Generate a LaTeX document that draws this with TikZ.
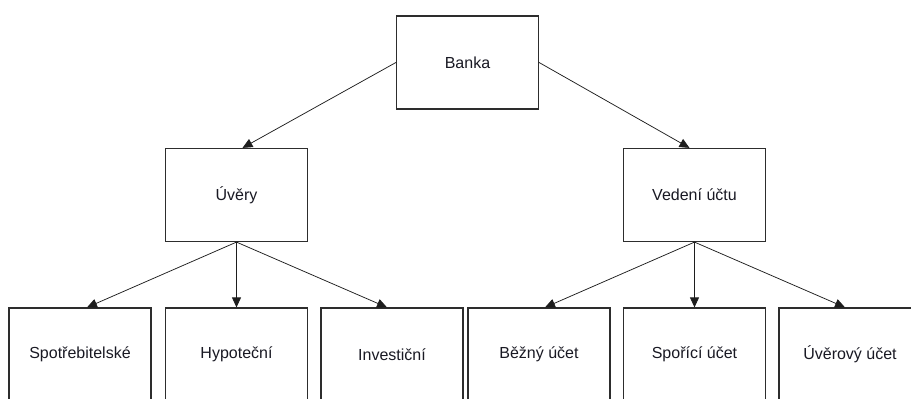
\documentclass[tikz,border=0pt]{standalone}
\usepackage{fontspec}
\setmainfont{Liberation Sans}
\usetikzlibrary{arrows.meta}
\definecolor{boxline}{RGB}{45,45,45}
\definecolor{linkcol}{RGB}{30,30,30}
\definecolor{textcol}{RGB}{25,25,35}
\begin{document}
\begin{tikzpicture}[x=1pt,y=-1pt,
  box/.style={draw=boxline, line width=1.2pt, fill=white, minimum width=142pt,
    minimum height=93pt, inner sep=0pt, font=\fontsize{16}{19}\selectfont, text=textcol},
  link/.style={draw=linkcol, line width=0.75pt, -{Triangle[length=10pt,width=9pt]}}]
  \clip (0,0) rectangle (911,399);
  % top level
  \node[box] (banka) at (467.5,62.5) {Banka};
  % second level
  \node[box] (uvery)  at (236.5,195) {Úvěry};
  \node[box] (vedeni) at (694.5,195) {Vedení účtu};
  % third level
  \node[box] (spotr) at (80,354.5)    {Spotřebitelské};
  \node[box] (hypo)  at (236.5,354.5) {Hypoteční};
  \node[box] (inv)   at (392,354.5)   {Investiční};
  \node[box] (bezny) at (539,354.5)   {Běžný účet};
  \node[box] (spor)  at (694.5,354.5) {Spořící účet};
  \node[box] (uverovy) at (850,354.5) {Úvěrový účet};
  % connectors
  \draw[link] (banka.west) -- ([xshift=6pt]uvery.north);
  \draw[link] (banka.east) -- ([xshift=-5pt]vedeni.north);
  \draw[link] (uvery.south) -- ([xshift=7pt]spotr.north);
  \draw[link] (uvery.south) -- (hypo.north);
  \draw[link] (uvery.south) -- ([xshift=-5pt]inv.north);
  \draw[link] (vedeni.south) -- ([xshift=6pt]bezny.north);
  \draw[link] (vedeni.south) -- (spor.north);
  \draw[link] (vedeni.south) -- ([xshift=-5pt]uverovy.north);
\end{tikzpicture}
\end{document}
